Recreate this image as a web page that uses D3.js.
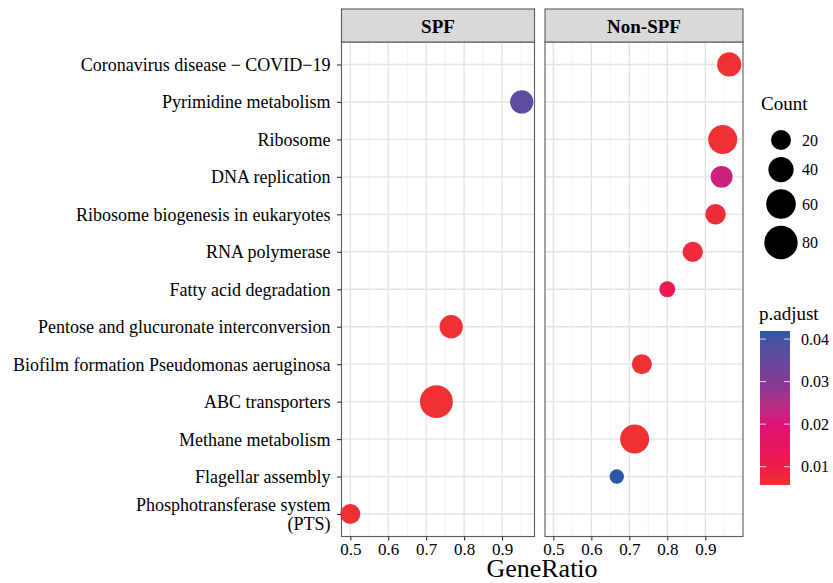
<!DOCTYPE html>
<html>
<head>
<meta charset="utf-8">
<script src="https://cdn.jsdelivr.net/npm/d3@7"></script>
<style>
  body { margin: 0; background: #fff; }
  svg, text { font-family: "Liberation Serif", "Times New Roman", serif; fill: #000; }
</style>
</head>
<body>
<div id="chart"></div>
<script>
// pathway terms, top to bottom
var terms = [
  "Coronavirus disease \u2212 COVID\u221219",
  "Pyrimidine metabolism",
  "Ribosome",
  "DNA replication",
  "Ribosome biogenesis in eukaryotes",
  "RNA polymerase",
  "Fatty acid degradation",
  "Pentose and glucuronate interconversion",
  "Biofilm formation Pseudomonas aeruginosa",
  "ABC transporters",
  "Methane metabolism",
  "Flagellar assembly",
  "Phosphotransferase system (PTS)"
];
var groups = ["SPF", "Non-SPF"];

// SPF panel
var spfTerms = ["Pyrimidine metabolism", "Pentose and glucuronate interconversion", "ABC transporters", "Phosphotransferase system (PTS)"];
var spfRatio = [0.952, 0.766, 0.727, 0.500];
var spfCount = [32, 32, 77, 20];
var spfPadj = [0.036, 0.006, 0.006, 0.006];

// Non-SPF panel
var nonTerms = ["Coronavirus disease \u2212 COVID\u221219", "Ribosome", "DNA replication", "Ribosome biogenesis in eukaryotes",
  "RNA polymerase", "Fatty acid degradation", "Biofilm formation Pseudomonas aeruginosa", "Methane metabolism", "Flagellar assembly"];
var nonRatio = [0.963, 0.946, 0.943, 0.927, 0.867, 0.800, 0.733, 0.714, 0.667];
var nonCount = [36, 57, 27, 22, 21, 8, 20, 57, 4];
var nonPadj = [0.006, 0.006, 0.022, 0.007, 0.007, 0.011, 0.006, 0.006, 0.042];

// axis / legend ticks
var xTicks = [0.5, 0.6, 0.7, 0.8, 0.9];
var xMinor = [0.55, 0.65, 0.75, 0.85, 0.95];
var countBreaks = [20, 40, 60, 80];
var padjBreaks = [0.01, 0.02, 0.03, 0.04];
var padjStops = [0.0057, 0.01, 0.02, 0.03, 0.0419];
var padjColors = ["#EF3232", "#EE1C48", "#DC1377", "#803A97", "#2B57A7"];

var W = 833, H = 583;
var panelTop = 42, panelBot = 536.5, stripTop = 9;
var serif = "Liberation Serif";

var svg = d3.select("#chart").append("svg").attr("width", W).attr("height", H);

var y = d3.scalePoint().domain(terms).range([panelTop, panelBot]).padding(0.6);
var size = d3.scaleRadial().domain([0, 80]).range([6.3, 16.7]);
var color = d3.scaleLinear().domain(padjStops).range(padjColors).interpolate(d3.interpolateLab);

// panel boxes and their x ranges
var panels = [
  {name: "SPF", x0: 341.5, x1: 534.5, range: [341.6, 535.4],
    terms: spfTerms, ratio: spfRatio, count: spfCount, padj: spfPadj},
  {name: "Non-SPF", x0: 545, x1: 743, range: [544.6, 738.7],
    terms: nonTerms, ratio: nonRatio, count: nonCount, padj: nonPadj}
];

panels.forEach(function(p){
  var x = d3.scaleLinear().domain([0.477, 0.988]).range(p.range);
  var g = svg.append("g");
  g.append("rect").attr("x", p.x0).attr("y", panelTop).attr("width", p.x1 - p.x0).attr("height", panelBot - panelTop).attr("fill", "#fff");
  // minor grid
  g.selectAll("line.minor").data(xMinor).enter().append("line")
    .attr("x1", function(d){ return x(d); }).attr("x2", function(d){ return x(d); })
    .attr("y1", panelTop).attr("y2", panelBot)
    .attr("stroke", "#F0F0F0").attr("stroke-width", 0.9);
  // major grid
  g.selectAll("line.majx").data(xTicks).enter().append("line")
    .attr("x1", function(d){ return x(d); }).attr("x2", function(d){ return x(d); })
    .attr("y1", panelTop).attr("y2", panelBot)
    .attr("stroke", "#E4E4E4").attr("stroke-width", 1.4);
  g.selectAll("line.majy").data(terms).enter().append("line")
    .attr("x1", p.x0).attr("x2", p.x1)
    .attr("y1", function(d){ return y(d); }).attr("y2", function(d){ return y(d); })
    .attr("stroke", "#E4E4E4").attr("stroke-width", 1.4);
  // points
  var pts = p.terms.map(function(t, i){ return {term: t, ratio: p.ratio[i], count: p.count[i], padj: p.padj[i]}; });
  g.selectAll("circle").data(pts).enter().append("circle")
    .attr("cx", function(d){ return x(d.ratio); })
    .attr("cy", function(d){ return y(d.term); })
    .attr("r", function(d){ return size(d.count); })
    .attr("fill", function(d){ return color(d.padj); });
  // border
  g.append("rect").attr("x", p.x0).attr("y", panelTop).attr("width", p.x1 - p.x0).attr("height", panelBot - panelTop)
    .attr("fill", "none").attr("stroke", "#5a5a5a").attr("stroke-width", 1.1);
  // strip
  g.append("rect").attr("x", p.x0).attr("y", stripTop).attr("width", p.x1 - p.x0).attr("height", panelTop - stripTop)
    .attr("fill", "#D9D9D9").attr("stroke", "#5a5a5a").attr("stroke-width", 1.1);
  g.append("text").attr("x", (p.x0 + p.x1) / 2).attr("y", 32.5)
    .attr("text-anchor", "middle").attr("font-size", "19px").attr("font-weight", "bold").text(p.name);
  // x axis
  var xa = g.append("g").attr("transform", "translate(0," + panelBot + ")")
    .call(d3.axisBottom(x).tickValues(xTicks).tickSize(4).tickPadding(2).tickFormat(d3.format(".1f")));
  xa.attr("font-family", serif);
  xa.select(".domain").remove();
  xa.selectAll("line").attr("stroke", "#333").attr("stroke-width", 1.1);
  xa.selectAll("text").attr("font-size", "17px").attr("fill", "#000");
});

// y axis on the left panel
var ya = svg.append("g").attr("transform", "translate(341.5,0)")
  .call(d3.axisLeft(y).tickSize(4.5).tickPadding(6).tickFormat(function(){ return ""; }));
ya.attr("font-family", serif);
ya.select(".domain").remove();
ya.selectAll("line").attr("stroke", "#333").attr("stroke-width", 1.1);
ya.selectAll(".tick").each(function(d){
  var t = d3.select(this).append("text").attr("x", -11).attr("text-anchor", "end")
    .attr("font-size", "18px").attr("fill", "#000");
  if (d === "Phosphotransferase system (PTS)") {
    t.append("tspan").attr("x", -11).attr("y", -4).text("Phosphotransferase system");
    t.append("tspan").attr("x", -11).attr("y", 15).text("(PTS)");
  } else {
    t.attr("y", 6).text(d);
  }
});

// x title
svg.append("text").attr("x", 542).attr("y", 577).attr("text-anchor", "middle")
  .attr("font-size", "26px").text("GeneRatio");

// size legend
var leg = svg.append("g");
leg.append("text").attr("x", 761).attr("y", 110).attr("font-size", "19px").text("Count");
var cy = 140;
countBreaks.forEach(function(b, i){
  if (i > 0) cy += size(countBreaks[i - 1]) + size(b) + 7;
  leg.append("circle").attr("cx", 781).attr("cy", cy).attr("r", size(b)).attr("fill", "#000");
  leg.append("text").attr("x", 802).attr("y", cy + 5.5).attr("font-size", "16px").text(b);
});

// colour bar
var barX = 760, barW = 30, barTop = 331, barBot = 485;
var cScale = d3.scaleLinear().domain([padjStops[0], padjStops[padjStops.length - 1]]).range([barBot, barTop]);
var defs = svg.append("defs");
var grad = defs.append("linearGradient").attr("id", "padj").attr("x1", 0).attr("x2", 0).attr("y1", 1).attr("y2", 0);
d3.range(0, 1.0001, 0.05).forEach(function(f){
  var v = padjStops[0] + f * (padjStops[padjStops.length - 1] - padjStops[0]);
  grad.append("stop").attr("offset", f).attr("stop-color", color(v));
});
leg.append("text").attr("x", 759).attr("y", 320).attr("font-size", "19px").text("p.adjust");
leg.append("rect").attr("x", barX).attr("y", barTop).attr("width", barW).attr("height", barBot - barTop).attr("fill", "url(#padj)");
padjBreaks.forEach(function(b){
  var yy = cScale(b);
  leg.append("line").attr("x1", barX).attr("x2", barX + 6).attr("y1", yy).attr("y2", yy).attr("stroke", "#fff").attr("stroke-opacity", 0.8);
  leg.append("line").attr("x1", barX + barW - 6).attr("x2", barX + barW).attr("y1", yy).attr("y2", yy).attr("stroke", "#fff").attr("stroke-opacity", 0.8);
  leg.append("text").attr("x", 801).attr("y", yy + 5.5).attr("font-size", "16px").text(b.toFixed(2));
});
</script>
</body>
</html>
